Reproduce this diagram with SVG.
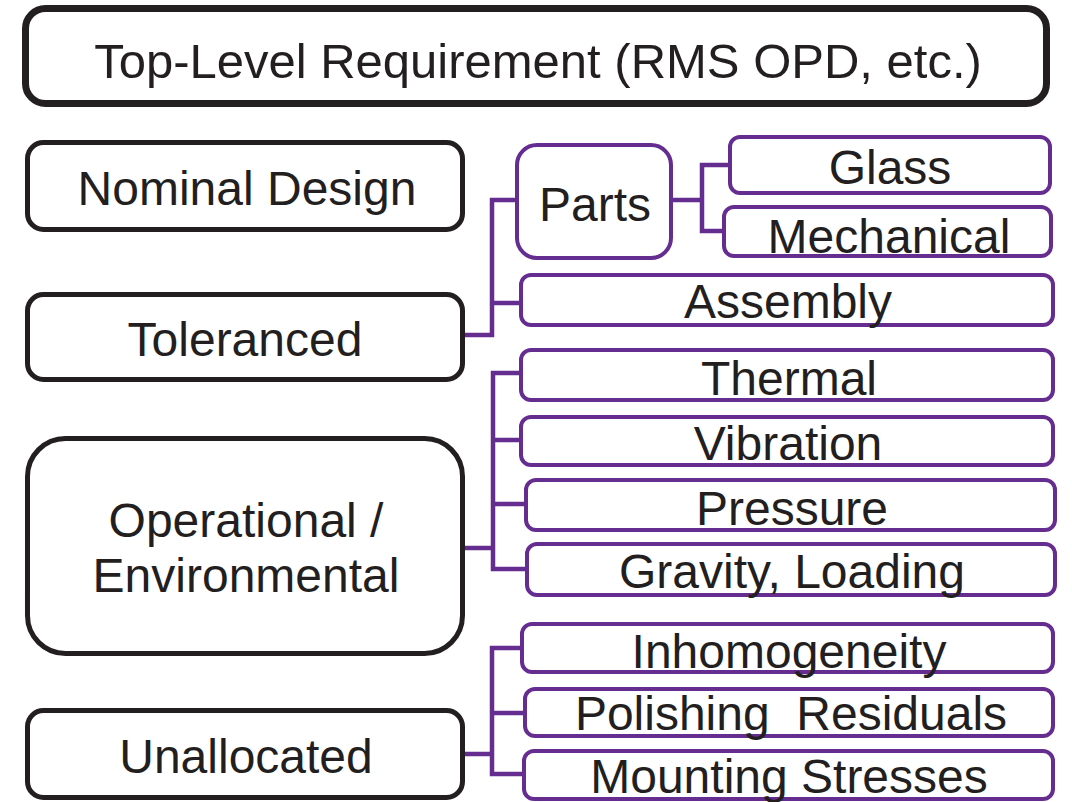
<svg xmlns="http://www.w3.org/2000/svg" width="1072" height="802" viewBox="0 0 1072 802">
<style>
.blk{fill:#fff;stroke:#231f20;stroke-width:5}
.top{fill:#fff;stroke:#231f20;stroke-width:7}
.pur{fill:#fff;stroke:#662d91;stroke-width:4}
.con{fill:none;stroke:#662d91;stroke-width:4.5;stroke-linejoin:miter}
text{font-family:"Liberation Sans",Arial,sans-serif;font-size:48px;fill:#231f20;text-anchor:middle}
.big{font-size:49px}
</style>
<rect width="1072" height="802" fill="#fff"/>
<g id="connectors">
<path class="con" d="M465,335 H492 V200 H517 M492,303 H521"/>
<path class="con" d="M671,200 H702 V165 H730 M702,165 V231 H724"/>
<path class="con" d="M465,548 H493 M521,373 H493 V569 H527 M493,440 H521 M493,504 H526"/>
<path class="con" d="M465,754 H492 M522,648 H492 V774 H524 M492,713 H525"/>
</g>
<g id="top"><rect class="top" x="25.5" y="8.5" width="1021" height="95" rx="20"/><text class="big" x="538" y="78">Top-Level Requirement (RMS OPD, etc.)</text></g>
<g id="nominal"><rect class="blk" x="27.5" y="142.5" width="435" height="87" rx="16"/><text x="247" y="205">Nominal Design</text></g>
<g id="toleranced"><rect class="blk" x="27.5" y="294.5" width="435" height="85" rx="16"/><text x="245" y="356">Toleranced</text></g>
<g id="operational"><rect class="blk" x="27.5" y="438.5" width="435" height="215" rx="38"/><text x="246" y="537">Operational /</text><text x="246" y="592">Environmental</text></g>
<g id="unallocated"><rect class="blk" x="27.5" y="710.5" width="435" height="87" rx="16"/><text x="246" y="773">Unallocated</text></g>
<g id="parts"><rect class="pur" x="517" y="145" width="154" height="113" rx="20"/><text x="595" y="221">Parts</text></g>
<g id="glass"><rect class="pur" x="730" y="137" width="320" height="56" rx="10"/><text x="890" y="184">Glass</text></g>
<g id="mechanical"><rect class="pur" x="724" y="207" width="327" height="49" rx="10"/><text x="889" y="253">Mechanical</text></g>
<g id="assembly"><rect class="pur" x="521" y="275" width="532" height="50" rx="10"/><text x="788" y="318">Assembly</text></g>
<g id="thermal"><rect class="pur" x="521" y="350" width="532" height="50" rx="10"/><text x="789" y="395">Thermal</text></g>
<g id="vibration"><rect class="pur" x="521" y="417" width="532" height="48" rx="10"/><text x="788" y="460">Vibration</text></g>
<g id="pressure"><rect class="pur" x="526" y="480" width="529" height="50" rx="10"/><text x="792" y="525">Pressure</text></g>
<g id="gravity"><rect class="pur" x="527" y="544" width="528" height="51" rx="10"/><text x="792" y="588">Gravity, Loading</text></g>
<g id="inhomogeneity"><rect class="pur" x="522" y="624" width="531" height="48" rx="10"/><text x="789" y="668">Inhomogeneity</text></g>
<g id="polishing"><rect class="pur" x="525" y="689" width="528" height="47" rx="10"/><text x="791" y="730" xml:space="preserve">Polishing  Residuals</text></g>
<g id="mounting"><rect class="pur" x="524" y="751" width="529" height="48" rx="10"/><text x="789" y="793">Mounting Stresses</text></g>
</svg>
